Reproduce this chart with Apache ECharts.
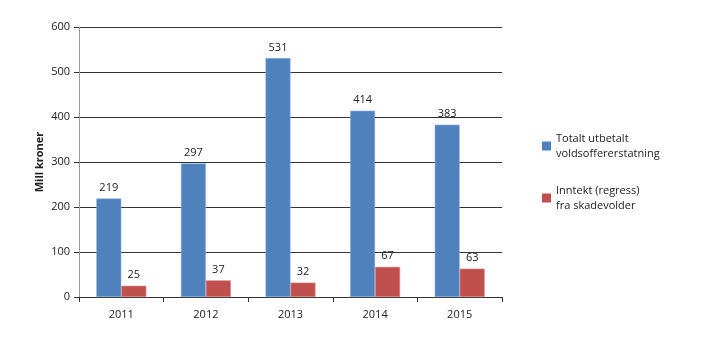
<!DOCTYPE html>
<html>
<head>
<meta charset="utf-8">
<script src="https://cdn.jsdelivr.net/npm/echarts@6/dist/echarts.min.js"></script>
<style>
  html, body { margin: 0; padding: 0; background: #fff; }
  #chart { width: 720px; height: 341px; }
</style>
</head>
<body>
<div id="chart"></div>
<script>
// Years on the category axis
const years = ['2011', '2012', '2013', '2014', '2015'];
// Total compensation paid to victims of violence (million NOK)
const totaltUtbetalt = [219, 297, 531, 414, 383];
// Recourse income collected from offenders (million NOK)
const inntektRegress = [25, 37, 32, 67, 63];
// Value axis ticks
const yTicks = [0, 100, 200, 300, 400, 500, 600];
const yTitle = 'Mill kroner';

const FONT = '"Open Sans", "Noto Sans", sans-serif';
const chart = echarts.init(document.getElementById('chart'));

const labelStyle = {
  show: true,
  position: 'top',
  distance: 5,
  fontFamily: FONT,
  fontSize: 11,
  color: '#222'
};

chart.setOption({
  animation: false,
  textStyle: { fontFamily: FONT },
  grid: { left: 79, right: 218, top: 27, bottom: 44, containLabel: false },
  // Rotated value-axis title placed beside the tick labels
  graphic: [{
    type: 'text',
    x: 40,
    y: 162,
    rotation: Math.PI / 2,
    style: {
      text: yTitle,
      font: 'bold 11px ' + FONT,
      fill: '#222',
      align: 'center',
      verticalAlign: 'middle'
    }
  }],
  legend: {
    orient: 'vertical',
    left: 537,
    top: 126,
    itemWidth: 9,
    itemHeight: 9,
    itemGap: 22,
    icon: 'rect',
    itemStyle: { borderWidth: 0 },
    textStyle: { fontFamily: FONT, fontSize: 11, color: '#222', lineHeight: 15 },
    data: ['Totalt utbetalt\nvoldsoffererstatning', 'Inntekt (regress)\nfra skadevolder']
  },
  xAxis: {
    type: 'category',
    data: years,
    axisLine: { lineStyle: { color: '#333', width: 1 } },
    axisTick: { show: true, length: 5, lineStyle: { color: '#333' } },
    axisLabel: { fontFamily: FONT, fontSize: 11, color: '#222', margin: 12 }
  },
  yAxis: {
    type: 'value',
    min: yTicks[0],
    max: yTicks[yTicks.length - 1],
    interval: 100,
    axisLine: { show: true, lineStyle: { color: '#999', width: 1 } },
    axisTick: { show: true, length: 5, lineStyle: { color: '#333' } },
    axisLabel: { fontFamily: FONT, fontSize: 11, color: '#222', margin: 9 },
    splitLine: { show: true, lineStyle: { color: '#333', width: 1 } }
  },
  series: [
    {
      name: 'Totalt utbetalt\nvoldsoffererstatning',
      type: 'bar',
      data: totaltUtbetalt,
      barWidth: 25,
      barGap: '0%',
      itemStyle: { color: '#4F81BD', borderColor: '#8FB0DA', borderWidth: 0.6 },
      label: labelStyle
    },
    {
      name: 'Inntekt (regress)\nfra skadevolder',
      type: 'bar',
      data: inntektRegress,
      barWidth: 25,
      barGap: '0%',
      itemStyle: { color: '#C0504D', borderColor: '#D88C8A', borderWidth: 0.6 },
      label: labelStyle
    }
  ]
});
</script>
</body>
</html>
